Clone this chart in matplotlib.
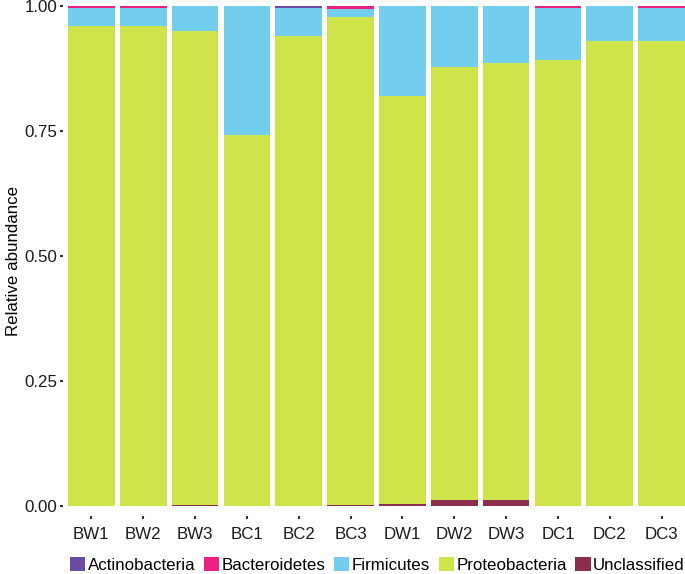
import numpy as np
import matplotlib.pyplot as plt

plt.rcParams['font.family'] = ['Liberation Sans', 'DejaVu Sans']

samples = ['BW1', 'BW2', 'BW3', 'BC1', 'BC2', 'BC3',
           'DW1', 'DW2', 'DW3', 'DC1', 'DC2', 'DC3']

# stacked from bottom to top
unclassified = [0.0, 0.0, 0.002, 0.0, 0.0, 0.002, 0.004, 0.013, 0.012, 0.0, 0.0, 0.0]
proteobacteria = [0.960, 0.960, 0.948, 0.742, 0.940, 0.976, 0.816, 0.865, 0.874, 0.892, 0.930, 0.930]
bacteroidetes = [0.004, 0.004, 0.0, 0.0, 0.0, 0.005, 0.0, 0.0, 0.0, 0.003, 0.0, 0.004]
actinobacteria = [0.0, 0.0, 0.0, 0.0, 0.004, 0.0, 0.0, 0.0, 0.0, 0.0, 0.0, 0.0]
firmicutes = list(1 - np.array(unclassified) - np.array(proteobacteria)
                  - np.array(bacteroidetes) - np.array(actinobacteria))

layers = [
    ('Unclassified', unclassified, '#8B2D4C'),
    ('Proteobacteria', proteobacteria, '#CFE44B'),
    ('Firmicutes', firmicutes, '#73CDEC'),
    ('Bacteroidetes', bacteroidetes, '#EC2280'),
    ('Actinobacteria', actinobacteria, '#6B4CA5'),
]

fs = 12.2
fig = plt.figure(figsize=(6.85, 5.74), dpi=100)
W, H = 685, 574
ax = fig.add_axes([62.8 / W, (H - 516) / H, (685 - 62.8) / W, 510 / H])

x = np.arange(1, len(samples) + 1)
bottom = np.zeros(len(samples))
handles = {}
for name, vals, col in layers:
    vals = np.array(vals)
    b = ax.bar(x, vals, bottom=bottom, width=0.9, color=col, linewidth=0)
    handles[name] = b
    bottom += vals

ax.set_xlim(0.45, 12.45)
ax.set_ylim(-0.02, 1.0)
ax.set_xticks(x)
ax.set_xticklabels(samples)
ax.set_yticks([0, 0.25, 0.5, 0.75, 1.0])
ax.set_yticklabels(['0.00', '0.25', '0.50', '0.75', '1.00'])
for s in ax.spines.values():
    s.set_visible(False)
ax.tick_params(axis='both', length=2, width=1.5, color='#333333',
               labelsize=fs, labelcolor='#1a1a1a')
ax.tick_params(axis='x', pad=6)
ax.tick_params(axis='y', pad=2)
ax.set_ylabel('Relative abundance', fontsize=fs, labelpad=2)

order = ['Actinobacteria', 'Bacteroidetes', 'Firmicutes', 'Proteobacteria', 'Unclassified']
fig.legend([handles[n] for n in order], order, loc='center', ncol=5,
           bbox_to_anchor=(0.551, 9 / H), frameon=False, fontsize=fs,
           handlelength=0.9, handleheight=0.9, handletextpad=0.15,
           columnspacing=0.5, borderpad=0, borderaxespad=0)

fig.savefig('out.png', dpi=100)
